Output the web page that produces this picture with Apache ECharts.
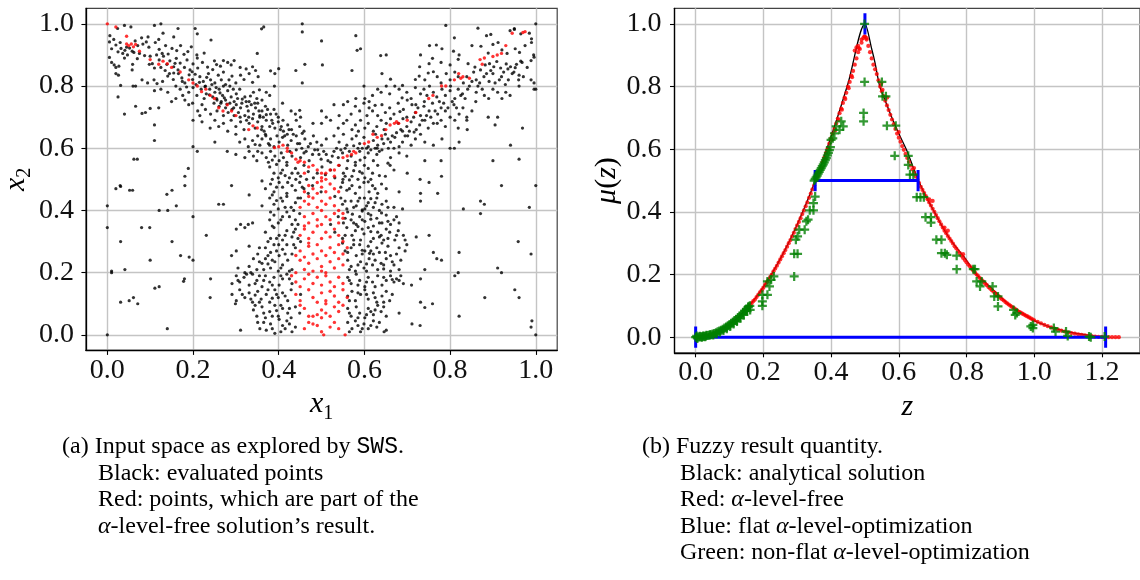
<!DOCTYPE html>
<html><head><meta charset="utf-8">
<script src="https://cdn.jsdelivr.net/npm/echarts@6/dist/echarts.min.js"></script>
<style>html,body{margin:0;padding:0;background:#fff;overflow:hidden}#c{width:1140px;height:580px}</style>
</head><body><div id="c"></div><script>
// ---------- DATA ----------
const xTicks = [0, 0.2, 0.4, 0.6, 0.8, 1.0];
const yTicks = [0, 0.2, 0.4, 0.6, 0.8, 1.0];
const zTicks = [0, 0.2, 0.4, 0.6, 0.8, 1.0, 1.2];
const muTicks = [0, 0.2, 0.4, 0.6, 0.8, 1.0];

// (a) evaluated points (black)
const evaluatedPoints = [
[0.04,0.995],[0.055,0.99],[0.11,0.995],[0.125,1.0],[0.165,0.985],[0.205,0.985],[0.21,0.968],[0.365,0.99],[0.36,0.984],[0.455,1.0],[0.455,0.974],[0.79,0.995],[0.865,0.986],[0.94,0.978],[0.95,0.982],[1.0,1.0],[0.965,0.968],[0.99,0.952],[0.81,0.955],[0.885,0.962],[0.895,0.966],[0.024,0.985],[0.006,0.962],[0.08,0.955],[0.095,0.958],[0.58,0.962],[0.155,0.958],[0.13,0.97],
[0.01,0.92],[0.02,0.932],[0.025,0.91],[0.032,0.921],[0.036,0.905],[0.041,0.915],[0.047,0.9],[0.052,0.922],[0.062,0.908],[0.071,0.93],[0.083,0.935],[0.091,0.942],[0.097,0.925],[0.112,0.94],[0.121,0.918],[0.128,0.905],[0.136,0.93],[0.142,0.903],[0.151,0.921],[0.162,0.914],[0.171,0.93],[0.179,0.902],[0.188,0.911],[0.196,0.926],[0.209,0.9],[0.226,0.906],[0.242,0.948],[0.005,0.942],[0.5,0.945],[0.583,0.915],[0.591,0.92],[0.731,0.9],[0.752,0.93],[0.768,0.932],[0.781,0.92],[0.808,0.912],[0.821,0.9],[0.851,0.93],[0.872,0.928],[0.9,0.934],[0.912,0.94],[0.921,0.916],[0.952,0.92],[0.962,0.908],[0.99,0.94],[0.995,0.9],[0.933,0.905],[0.889,0.906],[0.065,0.945],[0.35,0.905],
[0.005,0.892],[0.01,0.876],[0.016,0.868],[0.02,0.86],[0.027,0.864],[0.04,0.89],[0.059,0.87],[0.07,0.888],[0.1,0.896],[0.105,0.872],[0.11,0.858],[0.121,0.884],[0.131,0.896],[0.139,0.87],[0.146,0.881],[0.155,0.862],[0.161,0.889],[0.17,0.874],[0.18,0.86],[0.186,0.884],[0.2,0.871],[0.211,0.858],[0.222,0.876],[0.234,0.861],[0.246,0.853],[0.255,0.869],[0.264,0.864],[0.281,0.876],[0.289,0.868],[0.296,0.882],[0.25,0.881],[0.271,0.882],[0.31,0.86],[0.324,0.855],[0.339,0.862],[0.346,0.85],[0.502,0.868],[0.4,0.856],[0.729,0.862],[0.751,0.872],[0.759,0.889],[0.779,0.876],[0.8,0.868],[0.819,0.886],[0.842,0.872],[0.858,0.861],[0.871,0.852],[0.882,0.868],[0.902,0.862],[0.918,0.858],[0.931,0.871],[0.941,0.862],[0.952,0.859],[0.968,0.876],[0.989,0.882],[0.996,0.893],[0.909,0.879],[0.638,0.898],[0.651,0.9],[0.892,0.872],[0.058,0.852],[0.21,0.89],
[0.02,0.84],[0.026,0.835],[0.081,0.82],[0.094,0.81],[0.109,0.82],[0.116,0.808],[0.129,0.815],[0.141,0.832],[0.154,0.821],[0.166,0.84],[0.174,0.826],[0.181,0.81],[0.191,0.836],[0.199,0.821],[0.207,0.805],[0.216,0.83],[0.224,0.815],[0.236,0.84],[0.241,0.82],[0.251,0.81],[0.259,0.835],[0.266,0.82],[0.276,0.805],[0.284,0.82],[0.291,0.832],[0.3,0.81],[0.311,0.835],[0.319,0.821],[0.331,0.84],[0.339,0.812],[0.352,0.83],[0.198,0.846],[0.031,0.802],[0.381,0.849],[0.455,0.81],[0.571,0.85],[0.641,0.84],[0.661,0.822],[0.689,0.802],[0.719,0.821],[0.728,0.832],[0.741,0.82],[0.749,0.842],[0.761,0.846],[0.77,0.83],[0.779,0.81],[0.791,0.84],[0.8,0.82],[0.811,0.845],[0.819,0.83],[0.831,0.81],[0.839,0.83],[0.851,0.815],[0.861,0.82],[0.879,0.83],[0.891,0.815],[0.9,0.84],[0.92,0.83],[0.936,0.82],[0.949,0.845],[0.961,0.835],[0.971,0.83],[0.989,0.82],[0.996,0.81],[0.801,0.8],[0.869,0.81],[0.929,0.805],[0.155,0.842],[0.271,0.845],[0.232,0.828],
[0.025,0.765],[0.066,0.8],[0.11,0.785],[0.125,0.79],[0.141,0.78],[0.15,0.75],[0.16,0.76],[0.17,0.79],[0.176,0.77],[0.181,0.755],[0.19,0.78],[0.2,0.795],[0.209,0.77],[0.219,0.79],[0.226,0.76],[0.231,0.775],[0.239,0.79],[0.246,0.765],[0.251,0.78],[0.256,0.755],[0.261,0.79],[0.269,0.77],[0.276,0.755],[0.281,0.785],[0.289,0.765],[0.296,0.75],[0.301,0.775],[0.309,0.79],[0.321,0.765],[0.331,0.75],[0.341,0.78],[0.349,0.76],[0.361,0.755],[0.371,0.78],[0.379,0.77],[0.39,0.8],[0.229,0.8],[0.271,0.8],[0.601,0.76],[0.611,0.75],[0.619,0.77],[0.631,0.79],[0.639,0.78],[0.651,0.8],[0.659,0.775],[0.671,0.8],[0.681,0.79],[0.699,0.78],[0.709,0.76],[0.719,0.795],[0.731,0.775],[0.739,0.79],[0.746,0.77],[0.752,0.8],[0.761,0.78],[0.769,0.765],[0.781,0.79],[0.789,0.77],[0.8,0.785],[0.811,0.76],[0.819,0.79],[0.829,0.775],[0.841,0.79],[0.861,0.78],[0.88,0.77],[0.9,0.79],[0.911,0.78],[0.93,0.78],[0.94,0.77],[0.961,0.8],[0.996,0.79],[0.921,0.76],[0.599,0.8],[0.58,0.76],[0.315,0.758],[0.355,0.788],[0.688,0.762],
[0.066,0.735],[0.089,0.715],[0.12,0.73],[0.199,0.745],[0.211,0.72],[0.216,0.705],[0.221,0.74],[0.229,0.725],[0.241,0.71],[0.249,0.745],[0.256,0.72],[0.261,0.735],[0.271,0.705],[0.276,0.73],[0.282,0.715],[0.286,0.745],[0.291,0.725],[0.296,0.705],[0.301,0.74],[0.306,0.715],[0.311,0.73],[0.321,0.705],[0.329,0.72],[0.336,0.74],[0.341,0.71],[0.346,0.73],[0.351,0.745],[0.356,0.705],[0.361,0.72],[0.369,0.735],[0.381,0.71],[0.389,0.725],[0.399,0.7],[0.409,0.745],[0.429,0.72],[0.439,0.71],[0.451,0.7],[0.04,0.71],[0.266,0.75],[0.324,0.75],[0.19,0.74],[0.529,0.74],[0.551,0.74],[0.561,0.75],[0.569,0.71],[0.579,0.735],[0.589,0.72],[0.599,0.745],[0.606,0.705],[0.611,0.73],[0.619,0.72],[0.631,0.705],[0.641,0.74],[0.649,0.715],[0.659,0.73],[0.669,0.71],[0.679,0.745],[0.691,0.725],[0.699,0.7],[0.711,0.74],[0.719,0.715],[0.731,0.705],[0.739,0.735],[0.751,0.72],[0.759,0.745],[0.771,0.71],[0.779,0.73],[0.789,0.72],[0.809,0.74],[0.821,0.71],[0.839,0.7],[0.851,0.72],[0.889,0.7],[0.911,0.7],[0.5,0.72],[0.511,0.7],[0.541,0.705],[0.449,0.722],[0.371,0.708],[0.625,0.738],[0.683,0.718],
[0.11,0.675],[0.2,0.69],[0.221,0.685],[0.24,0.665],[0.251,0.69],[0.26,0.67],[0.271,0.68],[0.281,0.655],[0.289,0.69],[0.3,0.67],[0.311,0.685],[0.319,0.66],[0.331,0.68],[0.339,0.695],[0.345,0.665],[0.351,0.685],[0.361,0.67],[0.366,0.655],[0.371,0.69],[0.379,0.67],[0.386,0.68],[0.391,0.665],[0.399,0.685],[0.406,0.67],[0.411,0.655],[0.421,0.675],[0.43,0.66],[0.441,0.69],[0.449,0.67],[0.459,0.655],[0.356,0.7],[0.33,0.7],[0.41,0.69],[0.48,0.68],[0.5,0.68],[0.521,0.69],[0.539,0.665],[0.551,0.68],[0.559,0.69],[0.571,0.66],[0.579,0.675],[0.586,0.655],[0.591,0.69],[0.601,0.665],[0.609,0.68],[0.621,0.655],[0.629,0.67],[0.639,0.69],[0.646,0.66],[0.651,0.68],[0.661,0.695],[0.679,0.68],[0.689,0.655],[0.699,0.67],[0.709,0.685],[0.721,0.66],[0.729,0.675],[0.741,0.69],[0.749,0.665],[0.761,0.68],[0.779,0.69],[0.789,0.67],[0.811,0.69],[0.819,0.665],[0.839,0.69],[0.905,0.675],[0.969,0.665],[0.69,0.695],[0.716,0.652],
[0.11,0.625],[0.2,0.605],[0.251,0.62],[0.3,0.645],[0.309,0.62],[0.321,0.63],[0.329,0.605],[0.339,0.625],[0.351,0.64],[0.356,0.61],[0.361,0.63],[0.369,0.645],[0.376,0.615],[0.381,0.63],[0.389,0.605],[0.396,0.64],[0.401,0.62],[0.409,0.635],[0.421,0.61],[0.429,0.625],[0.441,0.64],[0.449,0.615],[0.461,0.63],[0.469,0.605],[0.481,0.64],[0.489,0.62],[0.5,0.61],[0.42,0.645],[0.379,0.61],[0.511,0.63],[0.529,0.64],[0.541,0.62],[0.551,0.645],[0.559,0.61],[0.571,0.63],[0.581,0.64],[0.589,0.615],[0.599,0.635],[0.609,0.605],[0.621,0.625],[0.626,0.645],[0.631,0.61],[0.641,0.63],[0.649,0.645],[0.656,0.6],[0.661,0.62],[0.671,0.635],[0.681,0.605],[0.689,0.62],[0.701,0.64],[0.709,0.61],[0.719,0.63],[0.731,0.645],[0.741,0.62],[0.761,0.61],[0.781,0.63],[0.8,0.6],[0.821,0.62],[0.941,0.61],[0.63,0.6],[0.669,0.6],[0.345,0.612],[0.455,0.648],[0.575,0.608],
[0.062,0.565],[0.189,0.535],[0.3,0.58],[0.321,0.57],[0.331,0.59],[0.341,0.575],[0.349,0.56],[0.361,0.585],[0.371,0.57],[0.376,0.555],[0.381,0.59],[0.391,0.575],[0.401,0.56],[0.406,0.585],[0.411,0.57],[0.419,0.555],[0.426,0.59],[0.431,0.575],[0.441,0.595],[0.451,0.57],[0.459,0.585],[0.471,0.56],[0.479,0.58],[0.491,0.595],[0.499,0.565],[0.511,0.58],[0.521,0.555],[0.529,0.59],[0.539,0.57],[0.549,0.585],[0.561,0.56],[0.569,0.575],[0.579,0.555],[0.589,0.59],[0.601,0.57],[0.609,0.585],[0.621,0.56],[0.629,0.58],[0.641,0.595],[0.661,0.57],[0.681,0.585],[0.699,0.575],[0.741,0.56],[0.961,0.565],[0.351,0.59],[0.28,0.59],[0.385,0.562],[0.59,0.562],[0.655,0.552],
[0.379,0.54],[0.389,0.52],[0.399,0.505],[0.409,0.53],[0.419,0.545],[0.431,0.52],[0.439,0.535],[0.451,0.51],[0.459,0.545],[0.469,0.525],[0.481,0.505],[0.501,0.54],[0.509,0.515],[0.521,0.53],[0.531,0.505],[0.541,0.545],[0.551,0.52],[0.559,0.535],[0.571,0.51],[0.579,0.545],[0.589,0.525],[0.601,0.505],[0.609,0.535],[0.619,0.52],[0.631,0.545],[0.649,0.51],[0.669,0.53],[0.7,0.52],[0.44,0.5],[0.55,0.5],[0.6,0.545],[0.49,0.52],[0.395,0.548],[0.415,0.512],[0.575,0.528],[0.635,0.512],[0.66,0.545],
[0.02,0.47],[0.031,0.477],[0.052,0.465],[0.151,0.465],[0.139,0.452],[0.361,0.495],[0.369,0.47],[0.381,0.485],[0.389,0.46],[0.401,0.49],[0.409,0.475],[0.419,0.455],[0.431,0.48],[0.439,0.465],[0.449,0.49],[0.459,0.47],[0.469,0.455],[0.479,0.48],[0.499,0.46],[0.549,0.49],[0.559,0.465],[0.571,0.48],[0.579,0.455],[0.589,0.475],[0.599,0.49],[0.611,0.46],[0.619,0.48],[0.631,0.455],[0.651,0.47],[0.681,0.46],[0.731,0.455],[0.771,0.455],[0.29,0.48],[0.331,0.45],[0.421,0.49],[0.609,0.492],[0.395,0.475],[0.565,0.498],[0.64,0.485],
[0.0,0.415],[0.379,0.44],[0.389,0.42],[0.399,0.405],[0.409,0.43],[0.419,0.445],[0.429,0.41],[0.439,0.425],[0.451,0.44],[0.531,0.445],[0.549,0.42],[0.559,0.405],[0.569,0.43],[0.581,0.415],[0.589,0.44],[0.601,0.405],[0.609,0.425],[0.621,0.41],[0.629,0.44],[0.641,0.42],[0.651,0.43],[0.669,0.41],[0.689,0.405],[0.731,0.43],[0.831,0.405],[0.141,0.4],[0.161,0.415],[0.271,0.42],[0.121,0.4],[0.985,0.41],[0.88,0.42],[0.361,0.415],[0.6,0.44],[0.595,0.402],[0.615,0.438],[0.395,0.432],
[0.379,0.37],[0.389,0.385],[0.399,0.36],[0.409,0.38],[0.419,0.395],[0.431,0.355],[0.439,0.37],[0.449,0.39],[0.521,0.355],[0.539,0.38],[0.551,0.36],[0.561,0.395],[0.569,0.37],[0.581,0.355],[0.589,0.38],[0.601,0.365],[0.609,0.39],[0.621,0.35],[0.629,0.375],[0.641,0.36],[0.651,0.385],[0.661,0.355],[0.669,0.37],[0.681,0.36],[0.339,0.36],[0.329,0.355],[0.311,0.355],[0.099,0.345],[0.381,0.395],[0.595,0.398],[0.615,0.372],[0.572,0.388],[0.64,0.392],
[0.0,0.345],[0.031,0.3],[0.369,0.33],[0.381,0.31],[0.389,0.345],[0.401,0.32],[0.409,0.305],[0.419,0.335],[0.431,0.315],[0.439,0.34],[0.451,0.3],[0.531,0.33],[0.549,0.31],[0.559,0.345],[0.571,0.32],[0.579,0.335],[0.591,0.305],[0.599,0.325],[0.609,0.345],[0.621,0.31],[0.631,0.33],[0.639,0.32],[0.651,0.34],[0.659,0.33],[0.671,0.305],[0.679,0.335],[0.691,0.32],[0.301,0.34],[0.321,0.345],[0.721,0.315],[0.751,0.32],[0.151,0.3],[0.615,0.332],[0.585,0.348],[0.645,0.305],
[0.351,0.26],[0.369,0.28],[0.381,0.265],[0.389,0.29],[0.401,0.255],[0.409,0.275],[0.419,0.29],[0.431,0.26],[0.439,0.28],[0.549,0.295],[0.561,0.265],[0.569,0.28],[0.581,0.255],[0.589,0.29],[0.601,0.27],[0.609,0.285],[0.621,0.26],[0.629,0.28],[0.641,0.295],[0.649,0.265],[0.661,0.255],[0.681,0.28],[0.699,0.29],[0.331,0.285],[0.301,0.27],[0.761,0.265],[0.769,0.245],[0.821,0.265],[0.989,0.26],[0.191,0.25],[0.171,0.255],[0.612,0.262],[0.595,0.272],[0.4,0.29],
[0.2,0.24],[0.331,0.22],[0.341,0.245],[0.349,0.21],[0.361,0.23],[0.369,0.245],[0.381,0.215],[0.391,0.235],[0.399,0.205],[0.409,0.225],[0.421,0.24],[0.431,0.21],[0.561,0.24],[0.569,0.22],[0.579,0.205],[0.591,0.235],[0.599,0.215],[0.611,0.245],[0.619,0.225],[0.631,0.21],[0.639,0.23],[0.651,0.245],[0.661,0.205],[0.669,0.225],[0.681,0.21],[0.305,0.215],[0.321,0.2],[0.819,0.2],[0.911,0.215],[0.041,0.21],[0.01,0.205],[0.741,0.21],[0.375,0.228],[0.605,0.228],[0.645,0.212],
[0.18,0.18],[0.178,0.172],[0.301,0.19],[0.309,0.17],[0.319,0.185],[0.331,0.16],[0.339,0.195],[0.349,0.175],[0.361,0.155],[0.369,0.19],[0.379,0.17],[0.389,0.185],[0.401,0.16],[0.409,0.18],[0.419,0.195],[0.431,0.165],[0.561,0.185],[0.569,0.165],[0.581,0.195],[0.589,0.175],[0.601,0.155],[0.609,0.185],[0.619,0.17],[0.631,0.19],[0.641,0.16],[0.651,0.175],[0.661,0.19],[0.669,0.17],[0.681,0.175],[0.691,0.165],[0.731,0.18],[0.811,0.19],[0.111,0.15],[0.291,0.165],[0.665,0.178],[0.675,0.18],[0.355,0.19],
[0.031,0.105],[0.051,0.11],[0.061,0.12],[0.291,0.13],[0.301,0.11],[0.309,0.145],[0.321,0.12],[0.331,0.135],[0.339,0.105],[0.351,0.14],[0.359,0.115],[0.371,0.13],[0.379,0.105],[0.391,0.145],[0.399,0.12],[0.409,0.135],[0.421,0.11],[0.429,0.145],[0.561,0.125],[0.571,0.14],[0.579,0.11],[0.591,0.13],[0.601,0.145],[0.609,0.115],[0.621,0.135],[0.629,0.105],[0.641,0.125],[0.651,0.14],[0.659,0.11],[0.731,0.105],[0.881,0.12],[0.961,0.12],[0.951,0.145],[0.299,0.1],[0.451,0.13],[0.345,0.128],[0.385,0.118],
[0.071,0.1],[0.341,0.08],[0.349,0.06],[0.361,0.09],[0.369,0.055],[0.379,0.075],[0.391,0.095],[0.399,0.06],[0.409,0.085],[0.421,0.07],[0.429,0.055],[0.439,0.09],[0.449,0.07],[0.561,0.085],[0.569,0.06],[0.581,0.09],[0.589,0.07],[0.601,0.055],[0.609,0.085],[0.621,0.065],[0.631,0.095],[0.639,0.075],[0.651,0.06],[0.681,0.07],[0.821,0.06],[0.991,0.045],[0.395,0.078],[0.615,0.075],
[0.0,0.0],[0.14,0.02],[0.311,0.015],[0.351,0.04],[0.356,0.02],[0.371,0.015],[0.381,0.035],[0.391,0.005],[0.401,0.05],[0.409,0.03],[0.419,0.045],[0.431,0.01],[0.439,0.025],[0.561,0.04],[0.571,0.02],[0.579,0.045],[0.591,0.01],[0.599,0.035],[0.609,0.02],[0.621,0.045],[0.629,0.025],[0.646,0.01],[0.651,0.015],[0.711,0.035],[0.989,0.025],[1.0,0.0],[0.585,0.03],[0.415,0.02],
[0.01,0.2],[0.059,0.465],[0.1,0.24],[0.181,0.51],[0.181,0.48],[0.2,0.38],[0.07,0.565],[0.231,0.32],[0.241,0.18],[0.24,0.12],[0.121,0.155],[0.1,0.728],[0.081,0.712],[0.06,0.8],[0.21,0.59],[0.26,0.42],[0.29,0.255],[0.391,0.84],[0.461,0.87],[0.78,0.51],[0.751,0.49],[0.73,0.5],[0.81,0.6],[0.84,0.66],[0.871,0.39],[0.871,0.43],[0.9,0.56],[0.92,0.2],[0.959,0.3],[1.0,0.48],[1.0,0.79],[0.92,0.48],[0.759,0.1],[0.78,0.24],[0.73,0.03],[0.71,0.16],[0.741,0.088],[0.779,0.56],[0.08,0.345],[0.03,0.48],[0.16,0.8],[0.12,0.95],[0.95,0.985],[0.44,0.85],
[0.015,0.95],[0.03,0.94],[0.045,0.925],[0.058,0.912],[0.075,0.905],[0.087,0.898],[0.098,0.87],[0.115,0.9],[0.125,0.86],[0.135,0.85],[0.145,0.84],[0.158,0.873],[0.165,0.852],[0.175,0.815],[0.185,0.797],[0.193,0.852],[0.205,0.838],[0.215,0.812],[0.228,0.798],[0.238,0.772],[0.244,0.805],[0.254,0.795],[0.263,0.778],[0.273,0.762],[0.279,0.742],[0.286,0.8],[0.294,0.79],[0.304,0.76],[0.314,0.745],[0.326,0.735],[0.334,0.768],[0.344,0.745],[0.354,0.72],[0.364,0.7],[0.374,0.725],[0.384,0.69],[0.394,0.71],[0.404,0.66],[0.414,0.64],[0.424,0.66],[0.434,0.645],[0.444,0.615],[0.454,0.6],[0.464,0.59],[0.474,0.615],[0.484,0.595],[0.494,0.58],[0.36,0.66],[0.37,0.64],[0.325,0.69],[0.31,0.7],[0.295,0.73],[0.265,0.745],[0.255,0.76],
[0.985,0.97],[0.975,0.93],[0.965,0.88],[0.955,0.87],[0.945,0.84],[0.935,0.855],[0.925,0.845],[0.915,0.82],[0.905,0.81],[0.895,0.85],[0.885,0.84],[0.875,0.79],[0.865,0.8],[0.855,0.845],[0.845,0.8],[0.835,0.76],[0.825,0.77],[0.815,0.73],[0.805,0.75],[0.795,0.73],[0.785,0.745],[0.775,0.75],[0.765,0.72],[0.755,0.7],[0.745,0.705],[0.735,0.69],[0.725,0.73],[0.715,0.7],[0.705,0.655],[0.695,0.64],[0.685,0.66],[0.675,0.65],[0.665,0.64],[0.655,0.63],[0.645,0.615],[0.635,0.59],[0.625,0.6],[0.615,0.595],[0.605,0.6],[0.595,0.6],[0.585,0.6],[0.565,0.59],[0.555,0.6],[0.545,0.595],[0.535,0.6],[0.525,0.575],[0.515,0.56],[0.505,0.59],[0.77,0.68],[0.8,0.7],[0.83,0.73],[0.86,0.75],[0.89,0.76],[0.96,0.82],[0.98,0.86],[0.7,0.755],[0.72,0.74],[0.74,0.75],
[0.385,0.5],[0.405,0.52],[0.425,0.505],[0.445,0.52],[0.455,0.475],[0.465,0.5],[0.545,0.475],[0.555,0.51],[0.565,0.47],[0.585,0.5],[0.595,0.52],[0.615,0.5],[0.625,0.47],[0.385,0.45],[0.405,0.44],[0.415,0.41],[0.435,0.4],[0.445,0.44],[0.545,0.44],[0.555,0.43],[0.575,0.41],[0.585,0.43],[0.605,0.415],[0.625,0.425],[0.635,0.4],[0.655,0.41],[0.385,0.35],[0.405,0.37],[0.425,0.38],[0.445,0.355],[0.555,0.375],[0.575,0.36],[0.595,0.37],[0.615,0.385],[0.635,0.36],[0.655,0.365],[0.675,0.38],[0.375,0.3],[0.395,0.31],[0.415,0.32],[0.435,0.33],[0.445,0.31],[0.555,0.32],[0.575,0.305],[0.595,0.34],[0.615,0.3],[0.635,0.315],[0.655,0.31],[0.675,0.32],[0.695,0.305],[0.355,0.28],[0.375,0.255],[0.395,0.27],[0.415,0.26],[0.435,0.29],[0.555,0.27],[0.575,0.29],[0.595,0.26],[0.615,0.27],[0.635,0.265],[0.655,0.285],[0.675,0.26],[0.695,0.27],[0.335,0.2],[0.355,0.235],[0.365,0.21],[0.385,0.24],[0.405,0.215],[0.425,0.205],[0.565,0.21],[0.585,0.225],[0.605,0.205],[0.625,0.24],[0.645,0.225],[0.665,0.235],[0.685,0.24],[0.305,0.175],[0.325,0.195],[0.345,0.165],[0.365,0.175],[0.385,0.16],[0.405,0.19],[0.425,0.18],[0.565,0.175],[0.585,0.16],[0.605,0.17],[0.625,0.155],[0.645,0.185],[0.685,0.19],[0.315,0.13],[0.335,0.115],[0.355,0.105],[0.375,0.145],[0.395,0.13],[0.415,0.125],[0.565,0.11],[0.585,0.135],[0.605,0.13],[0.625,0.12],[0.645,0.105],[0.665,0.13],[0.345,0.095],[0.365,0.07],[0.385,0.06],[0.405,0.095],[0.425,0.085],[0.565,0.07],[0.585,0.055],[0.605,0.065],[0.625,0.08],[0.645,0.09],[0.365,0.04],[0.385,0.02],[0.405,0.01],[0.425,0.035],[0.565,0.01],[0.595,0.02],[0.615,0.03],[0.635,0.04]
];

// (a) points that are part of the alpha-level-free result (red)
const resultPoints = [
[0.0,1.0],[0.02,0.99],[0.045,0.96],[0.945,0.97],[0.975,0.975],[0.97,0.972],
[0.045,0.935],[0.05,0.93],[0.056,0.935],[0.061,0.926],[0.066,0.934],[0.075,0.912],[0.1,0.885],[0.12,0.87],[0.13,0.88],[0.14,0.872],[0.15,0.86],[0.17,0.845],[0.19,0.82],[0.2,0.81],[0.21,0.8],[0.22,0.782],[0.24,0.77],[0.25,0.76],[0.23,0.79],[0.26,0.73],[0.27,0.72],[0.29,0.72],[0.3,0.705],[0.28,0.74],[0.33,0.66],[0.35,0.665],[0.34,0.672],[0.4,0.605],[0.41,0.61],[0.42,0.6],[0.39,0.602],[0.43,0.585],[0.44,0.565],[0.445,0.555],[0.45,0.56],[0.46,0.555],[0.42,0.59],
[0.93,0.93],[0.92,0.905],[0.91,0.9],[0.9,0.895],[0.87,0.885],[0.875,0.87],[0.88,0.89],[0.82,0.84],[0.825,0.825],[0.83,0.83],[0.845,0.825],[0.81,0.82],[0.79,0.8],[0.75,0.76],[0.76,0.77],[0.78,0.8],[0.72,0.715],[0.7,0.69],[0.66,0.675],[0.67,0.68],[0.675,0.685],[0.68,0.68],[0.65,0.66],[0.6,0.615],[0.61,0.62],[0.63,0.635],[0.64,0.64],[0.62,0.645],[0.56,0.575],[0.57,0.58],[0.575,0.59],[0.58,0.585],[0.55,0.57],
[0.47,0.54],[0.48,0.545],[0.49,0.53],[0.5,0.52],[0.51,0.52],[0.52,0.53],[0.53,0.53],[0.54,0.545],[0.46,0.52],[0.5,0.505],[0.51,0.5],[0.53,0.51],
[0.46,0.46],[0.47,0.48],[0.48,0.47],[0.49,0.49],[0.5,0.475],[0.51,0.46],[0.52,0.485],[0.53,0.47],[0.54,0.46],[0.49,0.455],[0.5,0.495],
[0.45,0.41],[0.46,0.43],[0.47,0.42],[0.48,0.44],[0.49,0.41],[0.5,0.43],[0.51,0.42],[0.52,0.44],[0.53,0.415],[0.54,0.4],[0.55,0.39],[0.47,0.445],[0.5,0.4],
[0.46,0.38],[0.47,0.36],[0.48,0.39],[0.49,0.37],[0.5,0.355],[0.51,0.38],[0.52,0.37],[0.53,0.39],[0.54,0.36],[0.55,0.375],[0.46,0.35],
[0.45,0.32],[0.46,0.34],[0.47,0.31],[0.48,0.33],[0.49,0.35],[0.5,0.31],[0.51,0.33],[0.52,0.315],[0.53,0.34],[0.54,0.32],[0.55,0.3],[0.47,0.295],
[0.45,0.27],[0.46,0.25],[0.47,0.285],[0.48,0.26],[0.49,0.29],[0.5,0.27],[0.51,0.255],[0.52,0.28],[0.53,0.265],[0.54,0.29],[0.55,0.26],[0.56,0.28],[0.44,0.255],
[0.44,0.2],[0.45,0.24],[0.46,0.21],[0.47,0.23],[0.48,0.205],[0.49,0.245],[0.5,0.22],[0.51,0.2],[0.52,0.235],[0.53,0.215],[0.54,0.245],[0.55,0.225],[0.5,0.205],
[0.43,0.19],[0.44,0.17],[0.45,0.155],[0.46,0.18],[0.47,0.195],[0.48,0.165],[0.49,0.185],[0.5,0.16],[0.51,0.19],[0.52,0.17],[0.53,0.155],[0.54,0.185],[0.55,0.165],
[0.44,0.13],[0.45,0.11],[0.47,0.145],[0.48,0.12],[0.49,0.105],[0.5,0.135],[0.51,0.11],[0.52,0.14],[0.53,0.125],[0.54,0.105],[0.55,0.145],[0.56,0.12],[0.51,0.1],
[0.46,0.085],[0.47,0.06],[0.48,0.06],[0.49,0.065],[0.5,0.055],[0.51,0.07],[0.52,0.06],[0.53,0.09],[0.54,0.075],[0.45,0.095],[0.55,0.095],[0.5,0.08],
[0.46,0.02],[0.47,0.04],[0.48,0.035],[0.5,0.01],[0.505,0.0],[0.52,0.025],[0.53,0.04],[0.54,0.02],[0.555,0.0],[0.49,0.03]
];

// (b) analytical solution (black line): [z, mu]
const analytical = [
[0,0],[0.05,0.01],[0.1,0.04],[0.15,0.09],[0.2,0.16],[0.25,0.25],[0.3,0.36],[0.35,0.49],[0.4,0.64],[0.45,0.81],[0.5,1.0],
[0.52,0.92],[0.53,0.875],[0.544,0.8],[0.56,0.755],[0.58,0.7],[0.6,0.65],[0.622,0.6],[0.64,0.55],[0.658,0.5],[0.68,0.45],[0.705,0.4],[0.73,0.35],[0.76,0.3],[0.79,0.26],[0.83,0.2],[0.86,0.17],[0.88,0.15],[0.93,0.1],[0.96,0.08],[1.005,0.05],[1.05,0.032],[1.09,0.02],[1.12,0.013],[1.15,0.008],[1.18,0.003],[1.21,0.0]
];

// (b) alpha-level-free result (red points): [z, mu]
const alphaFree = [
[0.155,0.095],[0.16,0.1],[0.165,0.108],[0.17,0.115],[0.175,0.12],[0.18,0.128],[0.185,0.135],[0.19,0.143],[0.195,0.15],[0.2,0.158],[0.205,0.167],[0.21,0.175],[0.215,0.183],[0.22,0.192],[0.225,0.2],[0.23,0.21],[0.235,0.219],[0.24,0.228],[0.245,0.238],[0.25,0.248],[0.255,0.258],[0.26,0.268],[0.265,0.278],[0.27,0.289],[0.275,0.3],[0.28,0.31],[0.285,0.322],[0.29,0.333],[0.295,0.345],[0.3,0.357],[0.305,0.368],[0.31,0.38],[0.315,0.393],[0.32,0.405],[0.325,0.418],[0.33,0.43],[0.335,0.445],[0.34,0.458],[0.345,0.472],[0.35,0.485],[0.355,0.5],[0.36,0.514],[0.365,0.528],[0.37,0.543],[0.375,0.558],[0.38,0.573],[0.385,0.588],[0.39,0.603],[0.395,0.618],[0.4,0.635],[0.405,0.65],[0.41,0.665],[0.415,0.682],[0.42,0.698],[0.425,0.715],[0.43,0.73],[0.435,0.748],[0.44,0.765],[0.445,0.78],[0.45,0.8],[0.455,0.815],[0.46,0.835],[0.465,0.85],[0.47,0.87],[0.475,0.89],[0.48,0.91],[0.485,0.92],[0.49,0.94],[0.495,0.955],[0.5,0.96],
[0.47,0.915],[0.475,0.925],[0.48,0.93],[0.482,0.923],[0.49,0.95],[0.498,0.96],[0.505,0.955],[0.402,0.63],[0.412,0.66],[0.422,0.694],[0.432,0.726],[0.442,0.76],[0.452,0.795],[0.462,0.83],[0.392,0.6],[0.382,0.57],[0.372,0.54],
[0.505,0.95],[0.51,0.93],[0.515,0.91],[0.52,0.89],[0.525,0.87],[0.53,0.855],[0.535,0.84],[0.54,0.82],[0.545,0.8],[0.55,0.785],[0.555,0.77],[0.56,0.755],[0.565,0.74],[0.57,0.725],[0.575,0.71],[0.58,0.695],[0.585,0.68],[0.59,0.665],[0.595,0.65],[0.6,0.637],[0.605,0.624],[0.61,0.61],[0.615,0.598],[0.62,0.585],[0.625,0.572],[0.63,0.56],[0.635,0.548],[0.64,0.536],[0.645,0.525],[0.65,0.514],[0.655,0.503],[0.66,0.492],[0.665,0.48],[0.67,0.47],[0.675,0.46],[0.68,0.45],[0.685,0.44],[0.69,0.43],[0.695,0.42],[0.7,0.41],[0.705,0.4],[0.71,0.39],[0.715,0.38],[0.72,0.37],[0.725,0.36],[0.73,0.35],[0.735,0.34],[0.74,0.332],[0.745,0.323],[0.75,0.315],[0.755,0.307],[0.76,0.299],[0.765,0.29],[0.77,0.283],[0.775,0.275],[0.78,0.268],[0.785,0.26],[0.79,0.253],[0.795,0.246],[0.8,0.239],[0.805,0.232],[0.81,0.226],[0.815,0.219],[0.82,0.213],[0.825,0.206],[0.83,0.2],[0.835,0.194],[0.84,0.188],[0.845,0.182],[0.85,0.177],[0.855,0.171],[0.86,0.166],[0.865,0.16],[0.87,0.155],[0.875,0.15],[0.88,0.145],[0.885,0.14],[0.89,0.135],[0.895,0.13],[0.9,0.126],[0.905,0.121],[0.91,0.117],[0.915,0.112],[0.92,0.108],[0.925,0.104],[0.93,0.1],[0.935,0.096],[0.94,0.093],[0.945,0.089],[0.95,0.085],[0.955,0.081],[0.96,0.078],[0.965,0.075],[0.97,0.072],[0.975,0.069],[0.98,0.066],[0.985,0.063],[0.99,0.06],[0.995,0.057],[1.0,0.054],[1.01,0.049],[1.02,0.044],[1.03,0.039],[1.04,0.035],[1.05,0.031],[1.06,0.027],[1.07,0.024],[1.08,0.021],[1.09,0.018],[1.1,0.015],[1.11,0.013],[1.12,0.011],[1.13,0.009],[1.14,0.007],[1.15,0.006],[1.16,0.004],[1.17,0.003],[1.18,0.002],[1.19,0.001],[1.2,0.001],[1.21,0.0],[1.22,0.0],[1.23,0.0],[1.24,0.0],[1.25,0.0],
[0.548,0.81],[0.552,0.79],[0.566,0.765],[0.6,0.655],[0.645,0.54],[0.69,0.44],[0.7,0.435],[0.735,0.35],[0.745,0.34],[0.79,0.265],[0.82,0.22]
];

// (b) flat alpha-level optimisation (blue): [mu, zLeft, zRight]
const flatLevels = [[0, 0.0, 1.211], [0.5, 0.353, 0.657], [1.0, 0.5, 0.5]];

// (b) non-flat alpha-level optimisation (green): [z, mu]
const nonFlat = [
[0,0],[0.005,0],[0.01,0.0005],[0.015,0.001],[0.02,0.0015],[0.025,0.0025],[0.03,0.0035],[0.035,0.005],[0.04,0.006],[0.045,0.008],[0.05,0.01],[0.055,0.012],[0.06,0.014],[0.065,0.017],[0.07,0.02],[0.075,0.022],[0.08,0.025],[0.085,0.029],[0.09,0.032],[0.095,0.036],[0.1,0.04],[0.105,0.044],[0.11,0.048],[0.115,0.053],[0.12,0.057],[0.125,0.062],[0.13,0.067],[0.135,0.073],[0.14,0.078],[0.145,0.084],[0.15,0.09],[0.155,0.095],[0.16,0.1],
[0.003,0.004],[0.012,0.003],[0.022,0.004],[0.032,0.006],[0.042,0.008],[0.052,0.007],[0.062,0.011],[0.072,0.016],[0.082,0.021],[0.092,0.027],[0.102,0.034],[0.112,0.042],[0.122,0.05],[0.132,0.06],[0.142,0.071],[0.152,0.083],[0.005,-0.004],[0.018,0.0],[0.028,0.001],
[0.35,0.5],[0.353,0.505],[0.356,0.51],[0.359,0.516],[0.362,0.522],[0.365,0.528],[0.368,0.534],[0.371,0.54],[0.374,0.546],[0.377,0.552],[0.38,0.558],[0.383,0.565],[0.386,0.572],[0.389,0.58],[0.392,0.588],[0.395,0.597],[0.398,0.607],
[0.499,1.0],[0.499,0.815],[0.496,0.716],[0.496,0.689],[0.55,0.815],[0.552,0.769],[0.562,0.769],[0.565,0.675],[0.591,0.675],[0.588,0.579],[0.628,0.579],[0.628,0.55],[0.633,0.519],[0.643,0.519],[0.653,0.447],[0.664,0.447],[0.674,0.447],[0.679,0.383],[0.695,0.383],[0.695,0.366],[0.711,0.311],[0.726,0.311],[0.726,0.268],[0.742,0.263],[0.736,0.268],[0.771,0.26],[0.771,0.217],[0.82,0.217],[0.825,0.217],[0.83,0.178],[0.84,0.162],[0.845,0.178],[0.877,0.162],[0.882,0.13],[0.893,0.13],[0.893,0.098],[0.939,0.087],[0.944,0.071],[0.949,0.077],[0.996,0.039],[0.996,0.029],[0.99,0.034],[1.058,0.029],[1.063,0.018],[1.094,0.018],[1.099,0.004],[1.162,0.002],[1.167,0],[1.208,0.002],
[0.43,0.689],[0.436,0.673],[0.415,0.673],[0.425,0.662],[0.41,0.651],[0.405,0.635],[0.4,0.63],[0.353,0.449],[0.348,0.428],[0.348,0.405],[0.337,0.405],[0.332,0.375],[0.327,0.37],[0.322,0.343],[0.306,0.343],[0.301,0.322],[0.296,0.311],[0.301,0.266],[0.291,0.266],[0.291,0.194],[0.231,0.194],[0.223,0.183],[0.212,0.178],[0.218,0.162],[0.212,0.135],[0.197,0.135],[0.197,0.114],[0.197,0.1],[0.156,0.098],[0.161,0.087],[0.15,0.087]
];

// captions
const captionA = ['(a) Input space as explored by {m|SWS}.', 'Black: evaluated points', 'Red: points, which are part of the', '{a|α}-level-free solution’s result.'];
const captionB = ['(b) Fuzzy result quantity.', 'Black: analytical solution', 'Red: {a|α}-level-free', 'Blue: flat {a|α}-level-optimization', 'Green: non-flat {a|α}-level-optimization'];

// ---------- CHART ----------
const FONT = 'Liberation Serif';
const chart = echarts.init(document.getElementById('c'), null, {renderer: 'canvas'});
const nameRich = {
  i: {fontFamily: FONT, fontStyle: 'italic', fontSize: 30, color: '#000', lineHeight: 30, verticalAlign: 'top'},
  r: {fontFamily: FONT, fontSize: 30, color: '#000', lineHeight: 30, verticalAlign: 'top'},
  s: {fontFamily: FONT, fontSize: 20, color: '#000', lineHeight: 20, verticalAlign: 'top', padding: [14, 0, 0, 0]}
};
function axis(gridIndex, min, max, ticks, name, gap, margin) {
  return {
    type: 'value', gridIndex, min, max,
    axisLine: {show: true, onZero: false, lineStyle: {color: '#000', width: 1.3}},
    axisTick: {show: true, inside: false, length: 4.5, lineStyle: {color: '#000', width: 1.1}, customValues: ticks},
    axisLabel: {customValues: ticks, formatter: v => v.toFixed(1), fontFamily: FONT, fontSize: 28, color: '#111', margin},
    splitLine: {show: true, lineStyle: {color: '#c4c4c4', width: 1.4}},
    name, nameLocation: 'middle', nameGap: gap,
    nameTextStyle: {fontFamily: FONT, fontSize: 30, color: '#000', rich: nameRich}
  };
}
const series = [];
series.push({type: 'scatter', xAxisIndex: 0, yAxisIndex: 0, data: evaluatedPoints, symbol: 'circle', symbolSize: 3.2, itemStyle: {color: '#000'}, silent: true, z: 2});
series.push({type: 'scatter', xAxisIndex: 0, yAxisIndex: 0, data: resultPoints, symbol: 'circle', symbolSize: 3.4, itemStyle: {color: '#ff0000'}, silent: true, z: 3});
series.push({type: 'line', xAxisIndex: 1, yAxisIndex: 1, data: analytical, smooth: 0.3, showSymbol: false, lineStyle: {color: '#000', width: 1.3}, silent: true, z: 2});
series.push({type: 'scatter', xAxisIndex: 1, yAxisIndex: 1, data: alphaFree, symbol: 'circle', symbolSize: 4.2, itemStyle: {color: '#ff0000'}, silent: true, z: 3});
const tickHalf = 0.034;
flatLevels.forEach(([mu, zl, zr]) => {
  const segs = [];
  if (zr > zl) segs.push([[zl, mu], [zr, mu]]);
  segs.push([[zl, mu - tickHalf], [zl, mu + tickHalf]]);
  if (zr > zl) segs.push([[zr, mu - tickHalf], [zr, mu + tickHalf]]);
  segs.forEach(s => series.push({type: 'line', xAxisIndex: 1, yAxisIndex: 1, data: s, showSymbol: false, lineStyle: {color: '#0000ff', width: 3}, silent: true, z: 4}));
});
series.push({type: 'scatter', xAxisIndex: 1, yAxisIndex: 1, data: nonFlat, symbol: 'path://M3,0h2v3h3v2h-3v3h-2v-3h-3v-2h3z', symbolSize: 9, itemStyle: {color: '#008000'}, silent: true, z: 5});

const CAP = 24;
const capRich = {
  a: {fontFamily: FONT, fontStyle: 'italic', fontSize: CAP, fill: '#000'},
  m: {fontFamily: 'Liberation Mono', fontSize: CAP - 1, fill: '#000'}
};
const graphics = [];
captionA.forEach((t, i) => graphics.push({type: 'text', x: i === 0 ? 62 : 98, y: 447 + i * 26.5,
  style: {text: t, fontFamily: FONT, fontSize: CAP, fill: '#000', verticalAlign: 'middle', rich: capRich}}));
captionB.forEach((t, i) => graphics.push({type: 'text', x: i === 0 ? 642 : 680, y: 447 + i * 26.5,
  style: {text: t, fontFamily: FONT, fontSize: CAP, fill: '#000', verticalAlign: 'middle', rich: capRich}}));

chart.setOption({
  animation: false,
  backgroundColor: '#fff',
  grid: [
    {left: 85.8, top: 8.3, width: 471.4, height: 342.1, show: true, borderColor: '#444', borderWidth: 1.2, backgroundColor: 'transparent'},
    {left: 674.5, top: 8.3, width: 473.8, height: 344.5, show: true, borderColor: '#444', borderWidth: 1.2, backgroundColor: 'transparent'}
  ],
  xAxis: [axis(0, -0.05, 1.05, xTicks, '{i|x}{s|1}', 30, 6), axis(1, -0.0625, 1.3125, zTicks, '{i|z}', 30, 6)],
  yAxis: [axis(0, -0.05, 1.05, yTicks, '{i|x}{s|2}', 40, 12), axis(1, -0.05, 1.05, muTicks, '{i|μ}{r|(}{i|z}{r|)}', 40, 13)],
  series,
  graphic: graphics
});
</script></body></html>
